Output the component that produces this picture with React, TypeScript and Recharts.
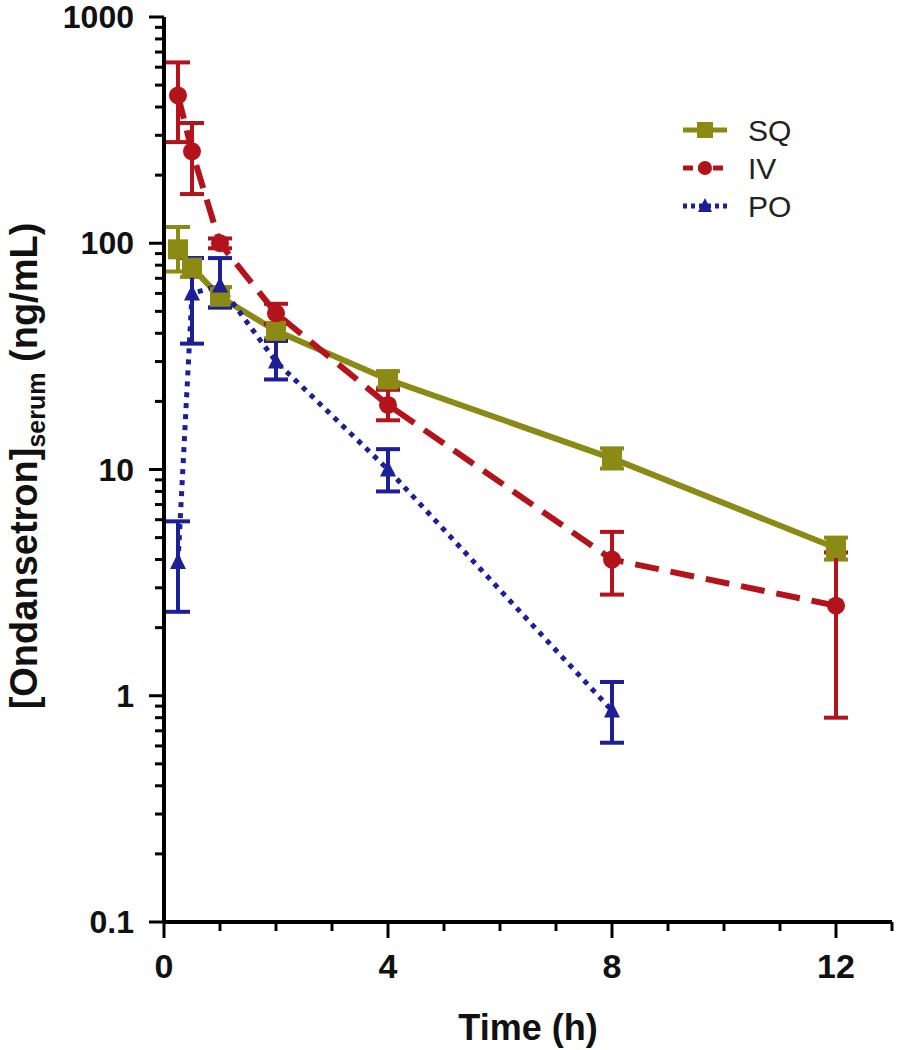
import React from 'react';
import { LineChart, Line, XAxis, YAxis, ErrorBar } from 'recharts';

// sampling times (h)
const times = [0.25, 0.5, 1, 2, 4, 8, 12];
const poTimes = [0.25, 0.5, 1, 2, 4, 8];

// SQ mean and error limits (ng/mL)
const sqMean = [94, 78, 58, 41, 25, 11.2, 4.5];
const sqLow = [75, 71, 52, 38, 23, 10.1, 4.0];
const sqHigh = [118, 86, 64, 44, 27.2, 12.4, 5.0];

// IV
const ivMean = [450, 255, 100, 49, 19.3, 4.0, 2.5];
const ivLow = [280, 165, 95, 44, 16.5, 2.8, 0.8];
const ivHigh = [630, 340, 105, 54, 22.5, 5.3, 4.3];

// PO
const poMean = [3.9, 60, 65, 30, 10, 0.86];
const poLow = [2.35, 36, 52, 25, 8.0, 0.62];
const poHigh = [5.9, 86, 86, 37, 12.3, 1.15];

const seriesNames = ['SQ', 'IV', 'PO'];
const yMajor = [0.1, 1, 10, 100, 1000];
const xMajor = [0, 4, 8, 12];
const xTicks = [0, 1, 2, 3, 4, 5, 6, 7, 8, 9, 10, 11, 12, 13];

const SQ_COLOR = '#8a8a14';
const IV_COLOR = '#b3141c';
const PO_COLOR = '#1c1f98';
const FONT = '"Liberation Sans", Arial, sans-serif';

const W = 898;
const H = 1050;
const LEFT = 164;
const TOP = 17;
const RIGHT = 6;
const BOTTOM = 128;

const yTicks: number[] = [];
[0.1, 1, 10, 100].forEach((d) => {
  for (let k = 1; k <= 9; k++) yTicks.push(+(d * k).toPrecision(3));
});
yTicks.push(1000);

const build = (t: number[], mean: number[], low: number[], high: number[]) =>
  t.map((x, i) => ({
    t: x,
    v: mean[i],
    err: [mean[i] - low[i], high[i] - mean[i]],
  }));

const sqData = build(times, sqMean, sqLow, sqHigh);
const ivData = build(times, ivMean, ivLow, ivHigh);
const poData = build(poTimes, poMean, poLow, poHigh);

const SquareDot = (p: any) => (
  <rect key={`sq-${p.index}`} x={p.cx - 10} y={p.cy - 10} width={20} height={20} fill={SQ_COLOR} />
);
const CircleDot = (p: any) => (
  <circle key={`iv-${p.index}`} cx={p.cx} cy={p.cy} r={9} fill={IV_COLOR} />
);
const TriDot = (p: any) => (
  <path
    key={`po-${p.index}`}
    d={`M${p.cx},${p.cy - 9} L${p.cx + 8},${p.cy + 7} L${p.cx - 8},${p.cy + 7} Z`}
    fill={PO_COLOR}
  />
);

const YTick = (p: any) => {
  const v = p.payload.value;
  const major = yMajor.includes(v);
  const y = p.y;
  return (
    <g>
      <line x1={LEFT - (major ? 15 : 9)} x2={LEFT} y1={y} y2={y} stroke="#000" strokeWidth={3} />
      {major && (
        <text x={LEFT - 30} y={y} dy={11} textAnchor="end" fontFamily={FONT} fontWeight="bold" fontSize={32} fill="#111">
          {v}
        </text>
      )}
    </g>
  );
};

const XTick = (p: any) => {
  const v = p.payload.value;
  const major = xMajor.includes(v);
  const x = p.x;
  const y0 = H - BOTTOM;
  return (
    <g>
      <line x1={x} x2={x} y1={y0} y2={y0 + (major ? 16 : 9)} stroke="#000" strokeWidth={3} />
      {major && (
        <text x={x} y={y0 + 56} textAnchor="middle" fontFamily={FONT} fontWeight="bold" fontSize={34} fill="#111">
          {v}
        </text>
      )}
    </g>
  );
};

const legendIcons = [
  (cx: number, cy: number) => <rect x={cx - 8} y={cy - 8} width={16} height={16} fill={SQ_COLOR} />,
  (cx: number, cy: number) => <circle cx={cx} cy={cy} r={7} fill={IV_COLOR} />,
  (cx: number, cy: number) => (
    <path d={`M${cx},${cy - 8} L${cx + 7},${cy + 6} L${cx - 7},${cy + 6} Z`} fill={PO_COLOR} />
  ),
];
const legendColors = [SQ_COLOR, IV_COLOR, PO_COLOR];
const legendDash = [undefined, '10 5', '4 4'];

export default function App() {
  return (
    <div style={{ position: 'absolute', left: 0, top: 0, width: W, height: H, background: '#fff' }}>
      <LineChart width={W} height={H} margin={{ top: TOP, right: RIGHT, left: 0, bottom: 0 }}>
        <XAxis
          dataKey="t"
          type="number"
          domain={[0, 13]}
          ticks={xTicks}
          interval={0}
          height={BOTTOM}
          axisLine={{ stroke: '#000', strokeWidth: 4 }}
          tickLine={false}
          tickSize={0}
          tickMargin={0}
          tick={<XTick />}
          allowDuplicatedCategory={false}
        />
        <YAxis
          type="number"
          scale="log"
          domain={[0.1, 1000]}
          allowDataOverflow
          ticks={yTicks}
          interval={0}
          width={LEFT}
          axisLine={{ stroke: '#000', strokeWidth: 4 }}
          tickLine={false}
          tickSize={0}
          tickMargin={0}
          tick={<YTick />}
        />
        <Line
          data={sqData}
          dataKey="v"
          name={seriesNames[0]}
          stroke={SQ_COLOR}
          strokeWidth={6}
          dot={SquareDot}
          activeDot={false}
          isAnimationActive={false}
        >
          <ErrorBar dataKey="err" direction="y" width={12} stroke={SQ_COLOR} strokeWidth={4} />
        </Line>
        <Line
          data={ivData}
          dataKey="v"
          name={seriesNames[1]}
          stroke={IV_COLOR}
          strokeWidth={6}
          strokeDasharray="24 12"
          dot={CircleDot}
          activeDot={false}
          isAnimationActive={false}
        >
          <ErrorBar dataKey="err" direction="y" width={12} stroke={IV_COLOR} strokeWidth={4} />
        </Line>
        <Line
          data={poData}
          dataKey="v"
          name={seriesNames[2]}
          stroke={PO_COLOR}
          strokeWidth={5}
          strokeDasharray="5 6"
          dot={TriDot}
          activeDot={false}
          isAnimationActive={false}
        >
          <ErrorBar dataKey="err" direction="y" width={12} stroke={PO_COLOR} strokeWidth={4} />
        </Line>
      </LineChart>
      <svg width={W} height={H} style={{ position: 'absolute', left: 0, top: 0, pointerEvents: 'none' }}>
        <text
          transform={`translate(37, 466) rotate(-90)`}
          textAnchor="middle"
          fontFamily={FONT}
          fontWeight="bold"
          fontSize={38}
          fill="#111"
        >
          [Ondansetron]
          <tspan fontSize={25} dy={8}>serum</tspan>
          <tspan dy={-8}> (ng/mL)</tspan>
        </text>
        <text x={528} y={1040} textAnchor="middle" fontFamily={FONT} fontWeight="bold" fontSize={36} fill="#111">
          Time (h)
        </text>
        {seriesNames.map((name, i) => {
          const cy = 130 + i * 38;
          return (
            <g key={name}>
              <line
                x1={683}
                x2={727}
                y1={cy}
                y2={cy}
                stroke={legendColors[i]}
                strokeWidth={5}
                strokeDasharray={legendDash[i]}
              />
              {legendIcons[i](705, cy)}
              <text x={748} y={cy + 11} fontFamily={FONT} fontSize={30} fill="#222">
                {name}
              </text>
            </g>
          );
        })}
      </svg>
    </div>
  );
}
